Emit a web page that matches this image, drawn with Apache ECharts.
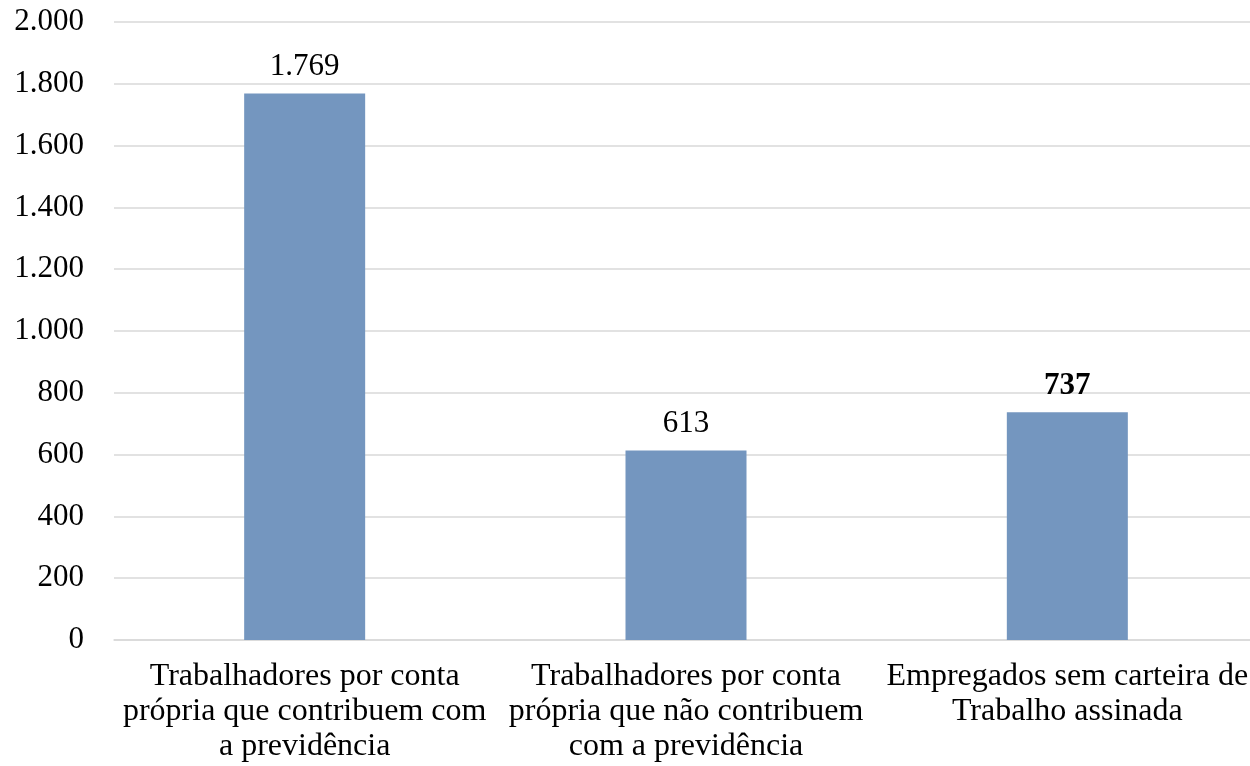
<!DOCTYPE html>
<html><head><meta charset="utf-8">
<script src="https://cdn.jsdelivr.net/npm/echarts@6/dist/echarts.min.js"></script>
<style>html,body{margin:0;padding:0;background:#fff;overflow:hidden}#c{width:1259px;height:766px}</style>
</head><body><div id="c"></div>
<script>
const categories = [
  "Trabalhadores por conta\nprópria que contribuem com\na previdência",
  "Trabalhadores por conta\nprópria que não contribuem\ncom a previdência",
  "Empregados sem carteira de\nTrabalho assinada"
];
const values = [1769, 613, 737];
const boldLabel = [false, false, true];
const yMin = 0, yMax = 2000, yInterval = 200;

function fmt(v){ return String(v).replace(/\B(?=(\d{3})+(?!\d))/g, "."); }
const font = "'Liberation Serif', 'Times New Roman', serif";
const chart = echarts.init(document.getElementById('c'), null, {renderer:'canvas'});
chart.setOption({
  animation:false,
  textStyle:{fontFamily:font},
  grid:{left:114, right:1, top:22, bottom:126, containLabel:false},
  xAxis:{type:'category', data:categories,
    axisLine:{show:true, lineStyle:{color:'#d9d9d9', width:1.5}},
    axisTick:{show:false},
    axisLabel:{color:'#000', fontFamily:font, fontSize:32, lineHeight:35, margin:19, interval:0}},
  yAxis:{type:'value', min:yMin, max:yMax, interval:yInterval,
    axisLine:{show:false}, axisTick:{show:false},
    splitLine:{lineStyle:{color:'#d9d9d9', width:1.5}},
    axisLabel:{color:'#000', fontFamily:font, fontSize:31, margin:30, formatter:fmt}},
  series:[{type:'bar', barWidth:121,
    data: values.map((v,i)=>({value:v, label:{fontWeight: boldLabel[i]?'bold':'normal'}})),
    itemStyle:{color:'#7496bf'},
    label:{show:true, position:'top', distance:11, color:'#000', fontFamily:font, fontSize:31,
      formatter:p=>fmt(p.value)}}]
});
</script></body></html>
